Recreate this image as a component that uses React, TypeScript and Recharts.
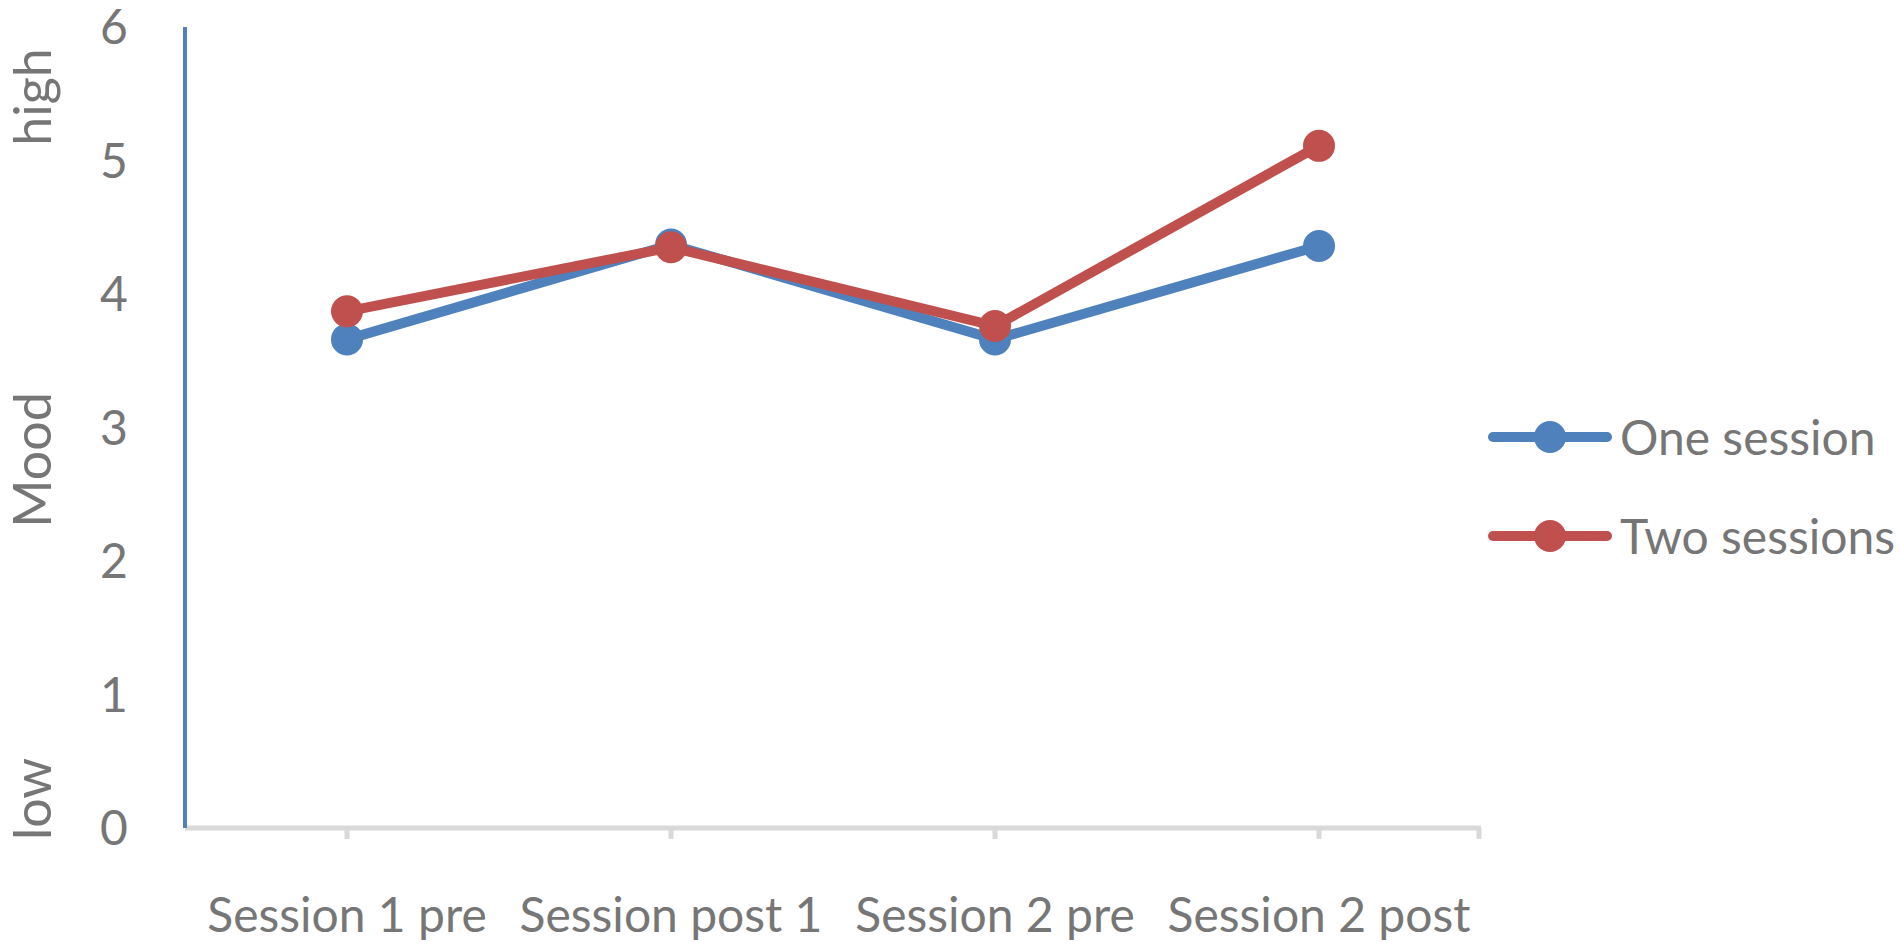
import React from "react";
import { LineChart, Line, XAxis, YAxis, Legend, Label } from "recharts";

const categories = ["Session 1 pre", "Session post 1", "Session 2 pre", "Session 2 post"];
const oneSession = [3.66, 4.37, 3.66, 4.36];
const twoSessions = [3.87, 4.35, 3.76, 5.11];
const yTicks = [0, 1, 2, 3, 4, 5, 6];
const seriesNames = ["One session", "Two sessions"];
const yAxisWords = ["high", "Mood", "low"];

const data = categories.map((c, i) => ({ name: c, one: oneSession[i], two: twoSessions[i] }));

const W = 1900;
const H = 947;
const MARGIN = { top: 27, right: 419, bottom: 0, left: 0 };
const Y_AXIS_W = 185;
const X_AXIS_H = 119;
const BLUE = "#4F81BD";
const RED = "#C0504D";
const GRAY_TEXT = "#767676";
const AXIS_GRAY = "#D9D9D9";
const FONT = "Lato, 'Open Sans', sans-serif";

const XTick = (props: any) => {
  const { x, y, payload, index } = props;
  const plotRight = W - MARGIN.right;
  return (
    <g>
      <text x={x} y={y + 91} textAnchor="middle" fill={GRAY_TEXT} fontSize={48} fontFamily={FONT}>
        {payload.value}
      </text>
      {index === categories.length - 1 ? (
        <line x1={plotRight - 2} x2={plotRight - 2} y1={y - 13} y2={y - 2} stroke={AXIS_GRAY} strokeWidth={5} />
      ) : null}
    </g>
  );
};

const YTick = (props: any) => {
  const { x, y, payload } = props;
  return (
    <text x={x - 63} y={y} dy="0.36em" textAnchor="middle" fill={GRAY_TEXT} fontSize={48} fontFamily={FONT}>
      {payload.value}
    </text>
  );
};

const wordCenters = [97, 460, 799];
const WORD_X = 51;

const YWords = () => (
  <g>
    {yAxisWords.map((w, i) => (
      <text
        key={w}
        x={WORD_X}
        y={wordCenters[i]}
        transform={`rotate(-90, ${WORD_X}, ${wordCenters[i]})`}
        textAnchor="middle"
        fill={GRAY_TEXT}
        fontSize={52}
        fontFamily={FONT}
      >
        {w}
      </text>
    ))}
  </g>
);

const LegendContent = (props: any) => {
  const payload = props.payload || [];
  return (
    <div>
      {payload.map((p: any, i: number) => (
        <div key={i} style={{ display: "flex", alignItems: "center", height: 99 }}>
          <svg width={124} height={40} style={{ display: "block" }}>
            <line x1={5} x2={119} y1={20} y2={20} stroke={p.color} strokeWidth={10} strokeLinecap="round" />
            <circle cx={62} cy={20} r={16} fill={p.color} />
          </svg>
          <span style={{ marginLeft: 8, fontFamily: FONT, fontSize: 48, color: GRAY_TEXT, whiteSpace: "nowrap" }}>
            {p.value}
          </span>
        </div>
      ))}
    </div>
  );
};

export default function App() {
  return (
    <div style={{ position: "absolute", left: 0, top: 0, width: W, height: H, background: "#fff" }}>
      <LineChart width={W} height={H} data={data} margin={MARGIN}>
        <XAxis
          dataKey="name"
          scale="band"
          height={X_AXIS_H}
          stroke={AXIS_GRAY}
          strokeWidth={5}
          axisLine={{ stroke: AXIS_GRAY, strokeWidth: 5 }}
          tickLine={{ stroke: AXIS_GRAY, strokeWidth: 5 }}
          tickSize={11}
          tick={<XTick />}
          interval={0}
        />
        <YAxis
          width={Y_AXIS_W}
          domain={[0, 6]}
          ticks={yTicks}
          stroke={BLUE}
          strokeWidth={4}
          axisLine={{ stroke: BLUE, strokeWidth: 4 }}
          tickLine={false}
          tick={<YTick />}
        >
          <Label content={() => <YWords />} />
        </YAxis>
        <Legend
          layout="vertical"
          align="center"
          verticalAlign="middle"
          content={<LegendContent />}
          wrapperStyle={{ left: 1488, top: 387, width: 412 }}
        />
        <Line
          type="linear"
          dataKey="one"
          name={seriesNames[0]}
          stroke={BLUE}
          strokeWidth={10}
          dot={{ r: 16, fill: BLUE, stroke: "none" }}
          activeDot={false}
          isAnimationActive={false}
        />
        <Line
          type="linear"
          dataKey="two"
          name={seriesNames[1]}
          stroke={RED}
          strokeWidth={10}
          dot={{ r: 16, fill: RED, stroke: "none" }}
          activeDot={false}
          isAnimationActive={false}
        />
      </LineChart>
    </div>
  );
}
